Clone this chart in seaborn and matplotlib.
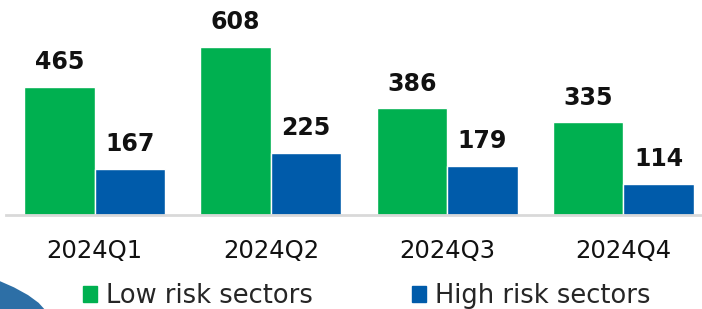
import matplotlib
matplotlib.use("Agg")
import matplotlib.pyplot as plt
import seaborn as sns
import pandas as pd
from matplotlib.patches import Polygon

# values
quarters = ["2024Q1", "2024Q2", "2024Q3", "2024Q4"]
low_risk = [465, 608, 386, 335]
high_risk = [167, 225, 179, 114]
series_names = ["Low risk sectors", "High risk sectors"]
colors = ["#00B050", "#005BAA"]

df = pd.DataFrame({
    "quarter": quarters * 2,
    "value": low_risk + high_risk,
    "series": [series_names[0]] * 4 + [series_names[1]] * 4,
})

sns.set_style("white")
plt.rcParams['font.family'] = ['DejaVu Sans']

fig = plt.figure(figsize=(7.02, 3.09), dpi=100)
ax = fig.add_axes([0.0091, 0.304, 1.0045, 0.696])

sns.barplot(data=df, x="quarter", y="value", hue="series", palette=colors,
            width=0.8, saturation=1, ax=ax, legend=False)

# bold value labels
for cont in ax.containers:
    ax.bar_label(cont, padding=9, fontsize=17, fontweight='bold', color='#111111')

ax.set_xlim(-0.5, 3.5)
ax.set_ylim(0, 778)
ax.set_xlabel("")
ax.set_ylabel("")
ax.set_yticks([])
for s in ["top", "right", "left"]:
    ax.spines[s].set_visible(False)
ax.spines["bottom"].set_color("#d9d9d9")
ax.spines["bottom"].set_linewidth(2)
ax.tick_params(axis='x', length=0, pad=17, labelsize=17.5, labelcolor='#111111')

# legend at the bottom
handles = [plt.Rectangle((0, 0), 1, 1, color=c) for c in colors]
fig.legend(handles, series_names, loc='lower center', bbox_to_anchor=(0.522, -0.075),
           ncol=2, frameon=False, fontsize=18.5, handlelength=0.55, handleheight=0.55,
           handletextpad=0.35, columnspacing=3.85)

# decorative swoosh in the lower-left corner
fig.patches.append(Polygon([(0, 0.09), (0.02, 0.07), (0.04, 0.045), (0.055, 0.02),
                            (0.063, 0.0), (0, 0.0)],
                           closed=True, transform=fig.transFigure,
                           facecolor='#2d6fa6', edgecolor='none'))

fig.savefig("out.png", dpi=100)
